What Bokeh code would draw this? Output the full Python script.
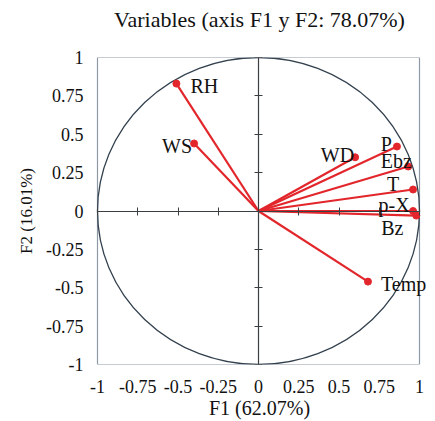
import numpy as np
from bokeh.plotting import figure
from bokeh.models import LinearAxis, FixedTicker, ColumnDataSource, Range1d, LabelSet
from bokeh.core.properties import value
from bokeh.embed import file_html
from bokeh.resources import INLINE

# ---- data ----
variables = ["RH", "WS", "WD", "P", "Ebz", "T", "p-X", "Bz", "Temp"]
f1 = [-0.51, -0.40, 0.60, 0.86, 0.93, 0.96, 0.96, 0.98, 0.68]
f2 = [0.83, 0.44, 0.35, 0.42, 0.29, 0.14, 0.00, -0.03, -0.46]
tick_values = [-1, -0.75, -0.5, -0.25, 0, 0.25, 0.5, 0.75, 1]
tick_labels = ["-1", "-0.75", "-0.5", "-0.25", "0", "0.25", "0.5", "0.75", "1"]
title_text = "Variables (axis F1 y F2: 78.07%)"
x_title = "F1 (62.07%)"
y_title = "F2 (16.01%)"

# ---- label styling (screen-pixel offsets: dx right, dy down; alignment) ----
label_style = {
    "RH":   (14, 2, "left"),
    "WS":   (-2, 3, "right"),
    "WD":   (-1, -2, "right"),
    "P":    (-5, -3, "right"),
    "Ebz":  (-12, -5, "center"),
    "T":    (-20, -6, "center"),
    "p-X":  (-19, -6, "center"),
    "Bz":   (-24, 12, "center"),
    "Temp": (13, 2, "left"),
}

FONT = "Liberation Serif"
RED = "#e2262b"
INK = "#111111"
W, H = 435, 421
BOX_LEFT, TOP, BOTTOM = 97, 57, 57   # pixel position of the [-1, 1] box
BOX_W = 322                          # pixel width of the box
FRAME_LEFT = 83                      # frame a bit wider than the box on both sides
PX_PER_UNIT = BOX_W / 2
x_start = -1 - (BOX_LEFT - FRAME_LEFT) / PX_PER_UNIT
x_end = x_start + (W - FRAME_LEFT) / PX_PER_UNIT

src = ColumnDataSource(dict(
    name=variables, f1=f1, f2=f2,
    dx=[label_style[v][0] for v in variables],
    dy=[-label_style[v][1] for v in variables],
    align=[label_style[v][2] for v in variables],
))

p = figure(width=W, height=H, output_backend="svg", toolbar_location=None,
           x_range=Range1d(x_start, x_end), y_range=Range1d(-1, 1),
           min_border_left=FRAME_LEFT, min_border_right=0,
           min_border_top=TOP, min_border_bottom=BOTTOM,
           background_fill_color="white", border_fill_color="white")

p.xgrid.visible = False
p.ygrid.visible = False
p.outline_line_color = None

labels_map = {v: l for v, l in zip(tick_values, tick_labels)}
for ax in (p.xaxis[0], p.yaxis[0]):
    ax.ticker = FixedTicker(ticks=tick_values)
    ax.major_label_overrides = labels_map
    ax.major_tick_in = 0
    ax.major_tick_out = 0
    ax.minor_tick_in = 0
    ax.minor_tick_out = 0
    ax.axis_line_color = None
    ax.major_label_text_font = FONT
    ax.major_label_text_font_size = "18px"
    ax.major_label_text_color = INK
    ax.axis_label_text_font = FONT
    ax.axis_label_text_font_style = "normal"
    ax.axis_label_text_color = INK

p.xaxis[0].axis_label = x_title
p.xaxis[0].axis_label_text_font_size = "20px"
p.xaxis[0].major_label_standoff = 15
p.xaxis[0].axis_label_standoff = 1
p.yaxis[0].axis_label = y_title
p.yaxis[0].axis_label_text_font_size = "17px"
p.yaxis[0].major_label_standoff = 0
p.yaxis[0].axis_label_standoff = 7

# central axes through the origin (drawn at 0, limited to the [-1, 1] box)
for loc in ("above", "left"):
    cax = LinearAxis(fixed_location=0, ticker=FixedTicker(ticks=tick_values),
                     bounds=(-1, 1),
                     major_label_text_font_size="0px", major_label_text_alpha=0,
                     major_label_standoff=0,
                     axis_line_color="#3a3f44", axis_line_width=1.2,
                     major_tick_line_color="#3a3f44", major_tick_in=4, major_tick_out=4,
                     minor_tick_in=0, minor_tick_out=0)
    p.add_layout(cax, loc)

# chart title carried by a bare top axis (no line, ticks or tick labels)
title_axis = LinearAxis(ticker=FixedTicker(ticks=[]), axis_line_color=None,
                        major_tick_in=0, major_tick_out=0, minor_tick_in=0, minor_tick_out=0,
                        major_label_text_font_size="0px", major_label_standoff=0,
                        axis_label=title_text, axis_label_text_font=FONT,
                        axis_label_text_font_size="22px", axis_label_text_font_style="normal",
                        axis_label_text_color=INK, axis_label_standoff=26)
p.add_layout(title_axis, "above")

# plot box and correlation circle
p.quad(left=-1, right=1, bottom=-1, top=1, fill_color=None,
       line_color="#8d9aa6", line_width=1.2)
p.ellipse(x=[0], y=[0], width=[2], height=[2], fill_color=None,
          line_color="#34424f", line_width=1.3)

# vectors
p.segment(x0=0, y0=0, x1="f1", y1="f2", source=src, line_color=RED, line_width=2.2)
p.scatter(x="f1", y="f2", source=src, size=7, color=RED)

labels = LabelSet(x="f1", y="f2", text="name", source=src, x_offset="dx", y_offset="dy",
                  text_align="align", text_baseline="middle", text_font=value(FONT),
                  text_font_size="20px", text_color=INK)
p.add_layout(labels)

open("out.html", "w").write(file_html(p, INLINE))
